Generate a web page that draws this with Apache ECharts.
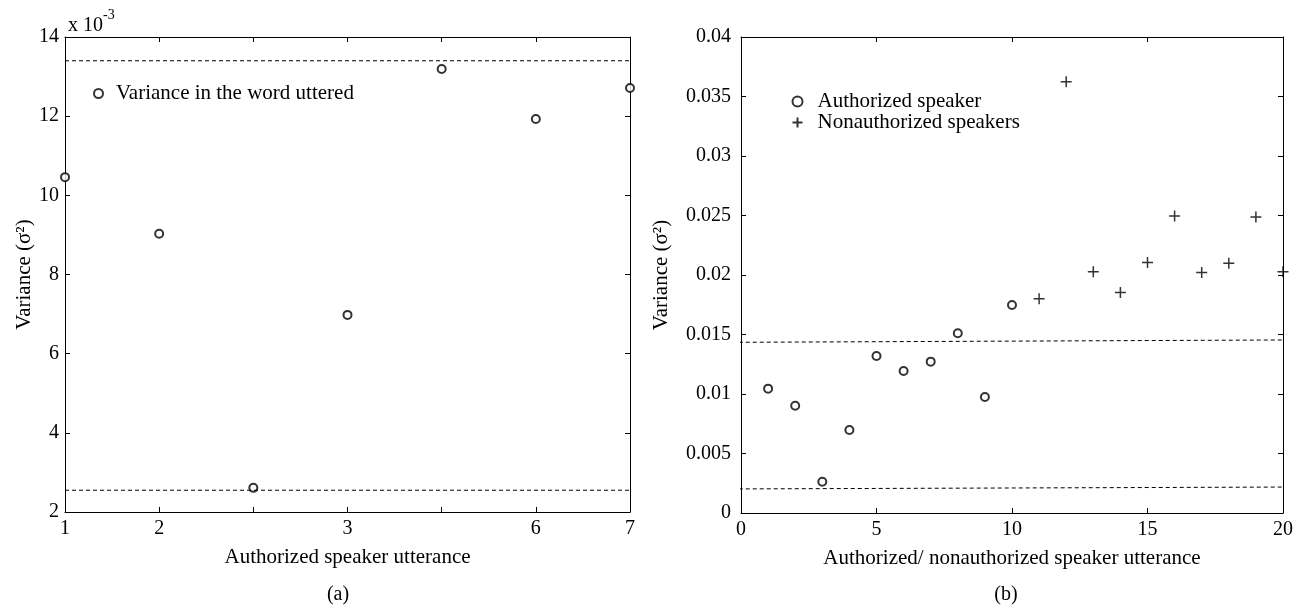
<!DOCTYPE html>
<html>
<head>
<meta charset="utf-8">
<script src="https://cdn.jsdelivr.net/npm/echarts@6/dist/echarts.min.js"></script>
<style>
  html, body { margin: 0; padding: 0; background: #fff; }
  #chart { width: 1304px; height: 607px; }
</style>
</head>
<body>
<div id="chart"></div>
<script>
// (a) variance of the authorized speaker's word, x 10^-3
const leftX = [1, 2, 3, 4, 5, 6, 7];
const leftVar = [10.46, 9.03, 2.61, 6.98, 13.19, 11.93, 12.71];
const leftXLabels = ['1', '2', '', '3', '', '6', '7'];
const leftUpper = 13.40;
const leftLower = 2.55;

// (b) authorized vs nonauthorized
const authX = [1, 2, 3, 4, 5, 6, 7, 8, 9, 10];
const authVar = [0.01045, 0.00902, 0.00263, 0.00698, 0.0132, 0.01193, 0.01272, 0.0151, 0.00975, 0.01748];
const nonAuthX = [11, 12, 13, 14, 15, 16, 17, 18, 19, 20];
const nonAuthVar = [0.0180, 0.03625, 0.02028, 0.01852, 0.02104, 0.02496, 0.0202, 0.02098, 0.02487, 0.02028];
const rightUpper = [0.01434, 0.01454];
const rightLower = [0.00202, 0.00218];
const rightLineX = [-0.6, 20];

const FONT = 'Liberation Serif';
const black = '#000';

function zip(xs, ys) { return xs.map((x, i) => [x, ys[i]]); }

function frameAxis(gridIndex, pos, min, max, interval) {
  return {
    type: 'value', gridIndex: gridIndex, position: pos, min: min, max: max, interval: interval,
    axisLine: { show: true, onZero: false, lineStyle: { color: black, width: 1 } },
    axisTick: { show: true, inside: true, length: 5, lineStyle: { color: black } },
    axisLabel: { show: false },
    splitLine: { show: false }
  };
}

function mainAxis(gridIndex, pos, min, max, interval, fmt, name, nameGap, margin) {
  let a = frameAxis(gridIndex, pos, min, max, interval);
  a.axisLabel = { show: true, color: black, fontFamily: FONT, fontSize: 20, margin: margin, formatter: fmt };
  a.name = name;
  a.nameLocation = 'middle';
  a.nameGap = nameGap;
  a.nameTextStyle = { color: black, fontFamily: FONT, fontSize: 21 };
  return a;
}

const dashed = { color: black, width: 1, type: [4, 3] };
const ring = { color: black, borderWidth: 1.2 };

let option = {
  animation: false,
  backgroundColor: '#fff',
  title: [
    {
      text: '{a|x 10}{b|-3}', left: 63, top: 3,
      textStyle: { fontWeight: 'normal', rich: {
        a: { fontFamily: FONT, fontSize: 20, color: black, fontWeight: 'normal', padding: [8, 0, 0, 0] },
        b: { fontFamily: FONT, fontSize: 14, color: black, fontWeight: 'normal', verticalAlign: 'top' }
      } }
    },
    { text: '(a)', left: 333, top: 580, textAlign: 'center', textStyle: { fontFamily: FONT, fontSize: 20, fontWeight: 'normal', color: black } },
    { text: '(b)', left: 1001, top: 580, textAlign: 'center', textStyle: { fontFamily: FONT, fontSize: 20, fontWeight: 'normal', color: black } }
  ],
  legend: [
    {
      data: ['Variance in the word uttered'], orient: 'vertical', left: 88, top: 78,
      itemWidth: 9, itemHeight: 9, itemGap: 6,
      textStyle: { fontFamily: FONT, fontSize: 21, color: black, padding: [0, 0, 0, 8] }
    },
    {
      data: ['Authorized speaker', 'Nonauthorized speakers'], orient: 'vertical', left: 785, top: 86,
      itemWidth: 10, itemHeight: 10, itemGap: 0,
      textStyle: { fontFamily: FONT, fontSize: 21, color: black, padding: [0, 0, 0, 10] }
    }
  ],
  grid: [
    { left: 65, right: 674, top: 37, bottom: 95 },
    { left: 741, right: 21, top: 37, bottom: 94 }
  ],
  xAxis: [
    mainAxis(0, 'bottom', 1, 7, 1, v => leftXLabels[v - 1], 'Authorized speaker utterance', 35, 7),
    frameAxis(0, 'top', 1, 7, 1),
    mainAxis(1, 'bottom', 0, 20, 5, null, 'Authorized/ nonauthorized speaker utterance', 35, 7),
    frameAxis(1, 'top', 0, 20, 5)
  ],
  yAxis: [
    mainAxis(0, 'left', 2, 14, 2, null, 'Variance (σ²)', 30, 6),
    frameAxis(0, 'right', 2, 14, 2),
    mainAxis(1, 'left', 0, 0.04, 0.005, null, 'Variance (σ²)', 69, 10),
    frameAxis(1, 'right', 0, 0.04, 0.005)
  ],
  series: [
    {
      name: 'Variance in the word uttered', type: 'scatter', xAxisIndex: 0, yAxisIndex: 0,
      symbol: 'emptyCircle', symbolSize: 8, itemStyle: ring,
      data: zip(leftX, leftVar)
    },
    {
      type: 'line', xAxisIndex: 0, yAxisIndex: 0, symbol: 'none', lineStyle: dashed,
      data: [[1, leftUpper], [7, leftUpper]]
    },
    {
      type: 'line', xAxisIndex: 0, yAxisIndex: 0, symbol: 'none', lineStyle: dashed,
      data: [[1, leftLower], [7, leftLower]]
    },
    {
      name: 'Authorized speaker', type: 'scatter', xAxisIndex: 2, yAxisIndex: 2,
      symbol: 'emptyCircle', symbolSize: 8, itemStyle: ring,
      data: zip(authX, authVar)
    },
    {
      name: 'Nonauthorized speakers', type: 'scatter', xAxisIndex: 2, yAxisIndex: 2,
      symbol: 'path://M0,5L10,5M5,0L5,10', symbolSize: 11,
      itemStyle: { color: 'none', borderColor: black, borderWidth: 1.5 },
      data: zip(nonAuthX, nonAuthVar)
    },
    {
      type: 'line', xAxisIndex: 2, yAxisIndex: 2, symbol: 'none', lineStyle: dashed, clip: false,
      data: zip(rightLineX, rightUpper)
    },
    {
      type: 'line', xAxisIndex: 2, yAxisIndex: 2, symbol: 'none', lineStyle: dashed, clip: false,
      data: zip(rightLineX, rightLower)
    }
  ]
};

let myChart = echarts.init(document.getElementById('chart'));
myChart.setOption(option);
</script>
</body>
</html>
